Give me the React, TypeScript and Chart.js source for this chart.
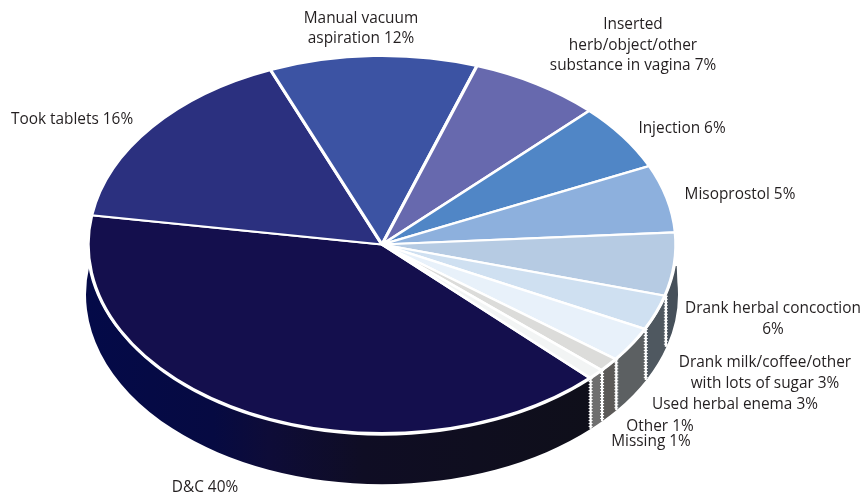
import React, { useEffect, useRef } from "react";
import { Chart, registerables } from "chart.js";

Chart.register(...registerables);

const categories = ["D&C", "Took tablets", "Manual vacuum aspiration", "Inserted herb/object/other substance in vagina", "Injection", "Misoprostol", "Drank herbal concoction", "Drank milk/coffee/other with lots of sugar", "Used herbal enema", "Other", "Missing"];
const shares = [39.9, 16.3, 11.4, 7.2, 5.7, 5.8, 5.4, 3, 3, 1.2, 0.9];
const topColors = ["#140f4d", "#2b307f", "#3c53a3", "#6769ae", "#5086c6", "#8db0dd", "#b6cbe3", "#cfe0f1", "#e8f1fa", "#dcdcda", "#f2f4f4"];
const wallColors = ["#0f0f1a", "#000", "#000", "#000", "#000", "#000", "#46505a", "#4f5860", "#5c6062", "#5c5a58", "#6f6f6f"];

const labelLines: string[][] = [["D&C 40%"], ["Took tablets 16%"], ["Manual vacuum", "aspiration 12%"], ["Inserted", "herb/object/other", "substance in vagina 7%"], ["Injection 6%"], ["Misoprostol 5%"], ["Drank herbal concoction", "6%"], ["Drank milk/coffee/other", "with lots of sugar 3%"], ["Used herbal enema 3%"], ["Other 1%"], ["Missing 1%"]];
const labelX = [205, 72, 361, 633, 682, 740, 773, 765, 735, 660, 651];
const labelY = [488, 120, 19, 25, 129, 195, 309, 363, 405, 427, 442];
const labelLeading = [0, 0, 20, 20.5, 0, 0, 21, 21, 0, 0, 0];

const SQUASH = 188 / 293;
const DEPTH = 50;

const pie3d = {
  id: "pie3d",
  beforeDatasetsDraw(chart: any) {
    const ctx = chart.ctx as CanvasRenderingContext2D;
    const arcs = chart.getDatasetMeta(0).data;
    const cx = arcs[0].x;
    const cy = arcs[0].y;
    const rx = arcs[0].outerRadius;
    const ry = rx * SQUASH;
    ctx.save();
    ctx.beginPath();
    ctx.rect(0, 266, chart.width, chart.height);
    ctx.clip();
    arcs.forEach((arc: any, i: number) => {
      let a0 = arc.startAngle;
      let a1 = arc.endAngle;
      const n = Math.floor((a0 + Math.PI / 2) / (2 * Math.PI));
      a0 -= n * 2 * Math.PI;
      a1 -= n * 2 * Math.PI;
      // only the slices that face the viewer have a wall
      const s = Math.sin((a0 + a1) / 2);
      if (s < -0.12) return;
      ctx.beginPath();
      ctx.ellipse(cx, cy + DEPTH, rx + 2, ry + 1, 0, a0, a1);
      ctx.ellipse(cx, cy, rx, ry, 0, a1, a0, true);
      ctx.closePath();
      if (i === 0) {
        const g = ctx.createLinearGradient(88, 0, 590, 0);
        g.addColorStop(0, "#040a48");
        g.addColorStop(0.25, "#060a42");
        g.addColorStop(0.36, "#0e0c38");
        g.addColorStop(0.55, "#0f0d24");
        g.addColorStop(1, "#0f0f1a");
        ctx.fillStyle = g;
      } else {
        ctx.fillStyle = wallColors[i];
      }
      ctx.fill();
    });
    // white seams between the wall segments
    arcs.forEach((arc: any, i: number) => {
      if (i < 6) return;
      const a = arc.endAngle;
      const x1 = cx + (rx + 1) * Math.cos(a);
      const y1 = cy + ry * Math.sin(a);
      ctx.strokeStyle = "#fff";
      ctx.lineWidth = 2.2;
      ctx.setLineDash([]);
      ctx.beginPath();
      ctx.moveTo(x1, y1);
      ctx.lineTo(x1, y1 + DEPTH + 1);
      ctx.stroke();
      ctx.lineWidth = 4;
      ctx.setLineDash([1, 2]);
      ctx.beginPath();
      ctx.moveTo(x1, y1);
      ctx.lineTo(x1, y1 + DEPTH + 1);
      ctx.stroke();
      ctx.setLineDash([]);
    });
    ctx.restore();
    // white rim round the top face
    ctx.fillStyle = "#fff";
    ctx.beginPath();
    ctx.ellipse(cx, cy, rx + 1, ry + 2.5, 0, 0, Math.PI * 2);
    ctx.fill();
    ctx.save();
    ctx.translate(cx, cy);
    ctx.scale(1, SQUASH);
    ctx.translate(-cx, -cy);
  },
  afterDatasetsDraw(chart: any) {
    const ctx = chart.ctx as CanvasRenderingContext2D;
    ctx.restore();
    ctx.save();
    ctx.fillStyle = "#231f20";
    ctx.font = '15.4px "Open Sans"';
    ctx.textAlign = "center";
    ctx.textBaseline = "middle";
    labelLines.forEach((lines, i) => {
      lines.forEach((line, j) => {
        ctx.fillText(line, labelX[i], labelY[i] + j * labelLeading[i]);
      });
    });
    ctx.restore();
  },
};

export default function App() {
  const ref = useRef<HTMLCanvasElement>(null);
  useEffect(() => {
    document.body.style.margin = "0";
    const chart = new Chart(ref.current!, {
      type: "pie",
      data: {
        labels: categories,
        datasets: [
          {
            data: shares,
            backgroundColor: topColors,
            borderColor: "#fff",
            borderWidth: 3.4,
            clip: false,
          } as any,
        ],
      },
      options: {
        responsive: false,
        animation: false,
        rotation: 135,
        radius: 294,
        layout: { padding: { left: 0, top: 0, right: 101, bottom: 6 } },
        plugins: { legend: { display: false }, tooltip: { enabled: false } },
      },
      plugins: [pie3d],
    });
    return () => chart.destroy();
  }, []);
  return <canvas ref={ref} width={865} height={495} style={{ display: "block" }} />;
}
